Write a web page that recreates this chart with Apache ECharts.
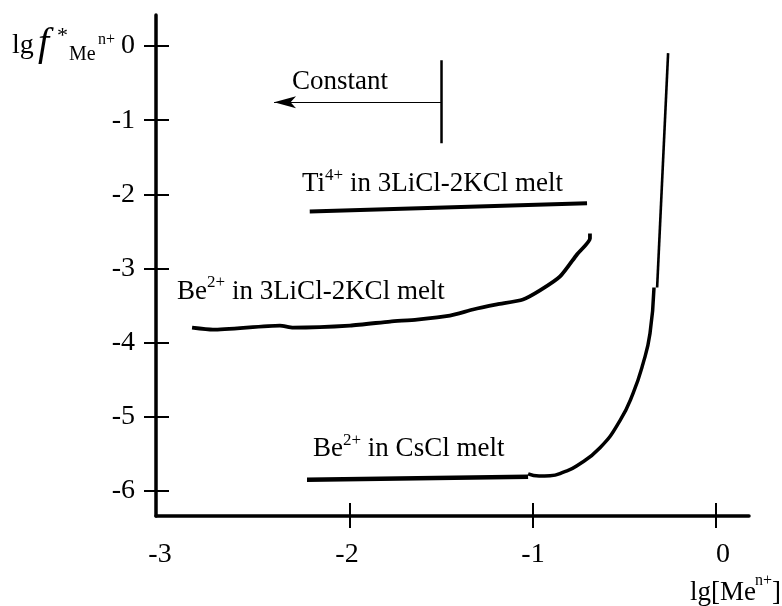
<!DOCTYPE html>
<html>
<head>
<meta charset="utf-8">
<script src="https://cdn.jsdelivr.net/npm/echarts@6/dist/echarts.min.js"></script>
<style>html,body{margin:0;padding:0;background:#fff}#c{width:782px;height:606px}</style>
</head>
<body>
<div id="c"></div>
<script>
// ---- data ----
const xTickLabels = [-3, -2, -1, 0];
const xTickMarks = [-2, -1, 0];
const yTickLabels = [0, -1, -2, -3, -4, -5, -6];

const tiX = [-2.22, -0.705];
const tiY = [-2.23, -2.12];

const beLiClX = [-2.863, -2.749, -2.383, -2.311, -2.000, -1.781, -1.634, -1.454, -1.328, -1.197, -1.055, -0.962, -0.852, -0.760, -0.689, -0.689];
const beLiClY = [-3.797, -3.824, -3.770, -3.797, -3.770, -3.716, -3.689, -3.635, -3.554, -3.486, -3.419, -3.297, -3.108, -2.811, -2.595, -2.527];

const csFlatX = [-2.235, -1.027];
const csFlatY = [-5.851, -5.811];

const csCurveX = [-1.027, -0.967, -0.907, -0.830, -0.760, -0.634, -0.525, -0.454, -0.399, -0.361, -0.339];
const csCurveY = [-5.770, -5.800, -5.797, -5.745, -5.662, -5.419, -5.054, -4.689, -4.284, -3.878, -3.257];

const csSteepX = [-0.322, -0.262];
const csSteepY = [-3.257, -0.095];

const constLineX = [-1.5, -1.5];
const constLineY = [-0.19, -1.31];
const constArrowFrom = [-1.5, -0.757];
const constArrowTo = [-2.415, -0.757];

// annotation anchors (left edge, vertical middle) in data units
const labelConstant = [-2.317, -0.486];
const labelTi = [-2.262, -1.865];
const labelBeLiCl = [-2.945, -3.311];
const labelBeCs = [-2.202, -5.439];

// ---- build ----
const FONT = '"Liberation Serif", "Times New Roman", serif';
const zip = (xs, ys) => xs.map((x, i) => [x, ys[i]]);

const richText = {
  b: { fontSize: 27, fontFamily: FONT, color: '#000', lineHeight: 34 },
  sup: { fontSize: 17, fontFamily: FONT, color: '#000', verticalAlign: 'top' }
};

function annotation(coord, text) {
  return {
    silent: true,
    symbol: 'circle',
    symbolSize: 1,
    itemStyle: { color: 'rgba(0,0,0,0)' },
    data: [{ coord: coord, value: 0 }],
    label: {
      show: true,
      position: 'inside',
      align: 'left',
      verticalAlign: 'middle',
      formatter: text,
      rich: richText
    }
  };
}

function lineSeries(name, xs, ys, width, extra) {
  return Object.assign({
    name: name,
    type: 'line',
    data: zip(xs, ys),
    symbol: 'none',
    silent: true,
    lineStyle: { color: '#000', width: width, cap: 'butt', join: 'round' },
    xAxisIndex: 0,
    yAxisIndex: 0,
    z: 3
  }, extra || {});
}

const xMin = -3.06, xMax = 0.18, yMin = -6.34, yMax = 0.42;

const xLabelRich = {
  l: { fontSize: 28, fontFamily: FONT, color: '#000', padding: [0, 14, 0, 0] },
  m: { fontSize: 28, fontFamily: FONT, color: '#000', padding: [0, 6, 0, 0] },
  c: { fontSize: 28, fontFamily: FONT, color: '#000' },
  r: { fontSize: 28, fontFamily: FONT, color: '#000', padding: [0, 0, 0, 14] }
};
function xLabelFmt(v) {
  const key = v === -3 ? 'l' : v === -2 ? 'm' : v === 0 ? 'r' : 'c';
  return '{' + key + '|' + v + '}';
}

const option = {
  animation: false,
  backgroundColor: '#ffffff',
  grid: { left: 156, right: 33, top: 15, bottom: 90 },
  xAxis: [
    {
      type: 'value', min: xMin, max: xMax, position: 'bottom',
      axisLine: { show: true, onZero: false, lineStyle: { color: '#000', width: 3.5 } },
      axisTick: { show: true, length: 12, customValues: xTickMarks, lineStyle: { color: '#000', width: 2 } },
      axisLabel: { show: true, customValues: xTickLabels, fontSize: 28, fontFamily: FONT, color: '#000', margin: 25, formatter: xLabelFmt, rich: xLabelRich },
      splitLine: { show: false }
    },
    {
      type: 'value', min: xMin, max: xMax, position: 'bottom',
      axisLine: { show: false, onZero: false },
      axisTick: { show: true, inside: true, length: 13, customValues: xTickMarks, lineStyle: { color: '#000', width: 2 } },
      axisLabel: { show: false },
      splitLine: { show: false }
    }
  ],
  yAxis: [
    {
      type: 'value', min: yMin, max: yMax, position: 'left',
      axisLine: { show: true, onZero: false, lineStyle: { color: '#000', width: 3.5 } },
      axisTick: { show: true, length: 12, customValues: yTickLabels, lineStyle: { color: '#000', width: 2 } },
      axisLabel: { show: true, customValues: yTickLabels, fontSize: 28, fontFamily: FONT, color: '#000', margin: 21 },
      splitLine: { show: false }
    },
    {
      type: 'value', min: yMin, max: yMax, position: 'left',
      axisLine: { show: false, onZero: false },
      axisTick: { show: true, inside: true, length: 13, customValues: yTickLabels, lineStyle: { color: '#000', width: 2 } },
      axisLabel: { show: false },
      splitLine: { show: false }
    }
  ],
  series: [
    lineSeries('Ti4+ in 3LiCl-2KCl melt', tiX, tiY, 4, {
      markPoint: annotation(labelTi, '{b|Ti}{sup|4+}{b| in 3LiCl-2KCl melt}')
    }),
    lineSeries('Be2+ in 3LiCl-2KCl melt', beLiClX, beLiClY, 3.8, {
      smooth: 0.2,
      markPoint: annotation(labelBeLiCl, '{b|Be}{sup|2+}{b| in 3LiCl-2KCl melt}')
    }),
    lineSeries('Be2+ in CsCl melt (flat)', csFlatX, csFlatY, 4.5, {
      markPoint: annotation(labelBeCs, '{b|Be}{sup|2+}{b| in CsCl melt}')
    }),
    lineSeries('Be2+ in CsCl melt (curve)', csCurveX, csCurveY, 3.5, { smooth: 0.5 }),
    lineSeries('Be2+ in CsCl melt (steep)', csSteepX, csSteepY, 2.6),
    lineSeries('Constant', constLineX, constLineY, 2.5, {
      markPoint: annotation(labelConstant, '{b|Constant}'),
      markLine: {
        silent: true,
        symbol: ['none', 'arrow'],
        symbolSize: [9, 22],
        label: { show: false },
        lineStyle: { color: '#000', width: 1.2, type: 'solid' },
        emphasis: { disabled: true },
        data: [[{ coord: constArrowFrom }, { coord: constArrowTo }]]
      }
    })
  ],
  graphic: [
    // y-axis name: lg f*_{Me^{n+}}
    { type: 'text', x: 12, y: 46, silent: true, style: { text: 'lg', font: '28px ' + FONT, fill: '#000', verticalAlign: 'middle' } },
    { type: 'text', x: 38, y: 44, silent: true, style: { text: 'f', font: 'italic 40px ' + FONT, fill: '#000', verticalAlign: 'middle' } },
    { type: 'text', x: 57, y: 36, silent: true, style: { text: '*', font: '22px ' + FONT, fill: '#000', verticalAlign: 'middle' } },
    { type: 'text', x: 69, y: 55, silent: true, style: { text: 'Me', font: '20px ' + FONT, fill: '#000', verticalAlign: 'middle' } },
    { type: 'text', x: 98, y: 40, silent: true, style: { text: 'n+', font: '16px ' + FONT, fill: '#000', verticalAlign: 'middle' } },
    // x-axis name: lg[Me^{n+}]
    { type: 'text', x: 690, y: 593, silent: true, style: { text: 'lg[Me', font: '27px ' + FONT, fill: '#000', verticalAlign: 'middle' } },
    { type: 'text', x: 755, y: 581, silent: true, style: { text: 'n+', font: '16px ' + FONT, fill: '#000', verticalAlign: 'middle' } },
    { type: 'text', x: 772, y: 593, silent: true, style: { text: ']', font: '27px ' + FONT, fill: '#000', verticalAlign: 'middle' } }
  ]
};

const chart = echarts.init(document.getElementById('c'), null, { renderer: 'canvas' });
chart.setOption(option);
</script>
</body>
</html>
